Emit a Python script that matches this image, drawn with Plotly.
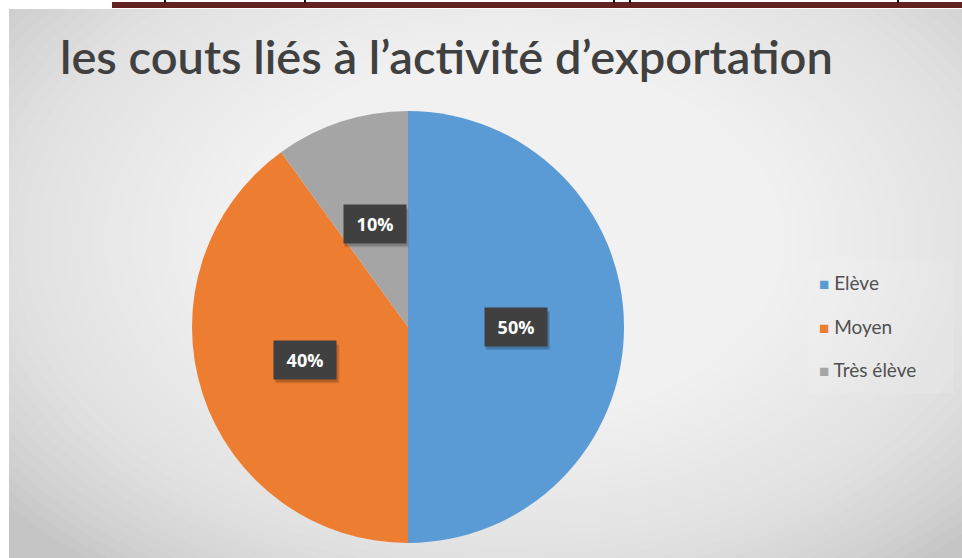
import math
import plotly.graph_objects as go

# --- data -------------------------------------------------------------
categories = ["Elève", "Moyen", "Très élève"]
values = [50, 40, 10]
colors = ["#5B9BD5", "#ED7D31", "#A5A5A5"]
title_text = "les couts liés à l’activité d’exportation"

# --- canvas geometry (pixels) ------------------------------------------
W, H = 962, 558
PIE_LEFT, PIE_RIGHT = 192, 624
PIE_TOP, PIE_BOTTOM = 111, 543
pie_cx = (PIE_LEFT + PIE_RIGHT) / 2
pie_cy = (PIE_TOP + PIE_BOTTOM) / 2
pie_r = (PIE_RIGHT - PIE_LEFT) / 2


def px_to_paper(x, y):
    return x / W, 1 - y / H


fig = go.Figure()
fig.add_trace(go.Pie(
    labels=categories,
    values=values,
    marker=dict(colors=colors, line=dict(width=0)),
    sort=False,
    direction="clockwise",
    rotation=0,
    textinfo="none",
    hoverinfo="label+percent",
    showlegend=False,
    domain=dict(x=[PIE_LEFT / W, PIE_RIGHT / W],
                y=[1 - PIE_BOTTOM / H, 1 - PIE_TOP / H]),
))

shapes = []

# chart area with a soft radial gradient (stacked translucent ellipses)
AREA_X0, AREA_Y0 = 9, 9
shapes.append(dict(type="rect", xref="paper", yref="paper",
                   x0=0, x1=1, y0=0, y1=1,
                   fillcolor="#c5c5c5", line=dict(width=0), layer="below"))
gcx, gcy = 505, 240
steps = 48
for i in range(steps):
    f = 1 - i / steps
    ax, ay = 640 * f, 420 * f
    x0, y0 = px_to_paper(gcx - ax, gcy - ay)
    x1, y1 = px_to_paper(gcx + ax, gcy + ay)
    shapes.append(dict(type="circle", xref="paper", yref="paper",
                       x0=x0, x1=x1, y0=y1, y1=y0,
                       fillcolor="rgba(255,255,255,0.062)",
                       line=dict(width=0), layer="below"))

# white page margin around the chart area
shapes.append(dict(type="rect", xref="paper", yref="paper",
                   x0=0, x1=AREA_X0 / W, y0=0, y1=1,
                   fillcolor="#ffffff", line=dict(width=0), layer="below"))
shapes.append(dict(type="rect", xref="paper", yref="paper",
                   x0=0, x1=1, y0=1 - AREA_Y0 / H, y1=1,
                   fillcolor="#ffffff", line=dict(width=0), layer="below"))

# page header rule and clipped text strokes above it
shapes.append(dict(type="rect", xref="paper", yref="paper",
                   x0=112 / W, x1=1, y0=1 - 8 / H, y1=1 - 2 / H,
                   fillcolor="#622222", line=dict(width=0)))
for sx in (165, 305, 614, 630, 898):
    shapes.append(dict(type="line", xref="paper", yref="paper",
                       x0=sx / W, x1=sx / W, y0=1 - 3 / H, y1=1,
                       line=dict(color="#111111", width=2)))

# faint legend panel
shapes.append(dict(type="rect", xref="paper", yref="paper",
                   x0=808 / W, x1=953 / W, y0=1 - 393 / H, y1=1 - 260 / H,
                   fillcolor="rgba(255,255,255,0.10)", line=dict(width=0),
                   layer="below"))

annotations = []

# title
tx, ty = px_to_paper(446, 56)
annotations.append(dict(text=title_text, x=tx, y=ty, xref="paper", yref="paper",
                        xanchor="center", yanchor="middle", showarrow=False,
                        font=dict(family="Lato", size=47, color="#404040",
                                  weight=600)))

# data labels at half radius along each slice's mid angle
BOX_W, BOX_H = 62, 38
total = sum(values)
start = 90.0
for cat, v in zip(categories, values):
    sweep = 360.0 * v / total
    mid = math.radians(start - sweep / 2)
    start -= sweep
    lx = pie_cx + 0.5 * pie_r * math.cos(mid)
    ly = pie_cy - 0.5 * pie_r * math.sin(mid)
    pct = f"{round(100 * v / total)}%"
    # soft drop shadow under the label box
    for k, a in ((4, 0.10), (3, 0.14)):
        sx0, sy0 = px_to_paper(lx - BOX_W / 2 + 1, ly - BOX_H / 2 + k)
        sx1, sy1 = px_to_paper(lx + BOX_W / 2 + k - 1, ly + BOX_H / 2 + k)
        shapes.append(dict(type="rect", xref="paper", yref="paper",
                           x0=sx0, x1=sx1, y0=sy1, y1=sy0,
                           fillcolor=f"rgba(0,0,0,{a})", line=dict(width=0)))
    px, py = px_to_paper(lx, ly)
    annotations.append(dict(text=pct, x=px, y=py, xref="paper", yref="paper",
                            xanchor="center", yanchor="middle",
                            showarrow=False, width=BOX_W - 16, height=BOX_H - 16,
                            borderpad=8, bgcolor="#404040",
                            font=dict(family="Open Sans", size=18,
                                      color="#ffffff", weight="bold")))

# legend entries
legend_y = [282, 326, 369]
for cat, col, ly in zip(categories, colors, legend_y):
    lx, lyp = px_to_paper(817, ly)
    annotations.append(dict(
        text=f"<span style='color:{col};font-size:17px'>■</span> {cat}",
        x=lx, y=lyp, xref="paper", yref="paper", xanchor="left",
        yanchor="middle", showarrow=False,
        font=dict(family="Lato", size=19, color="#505050")))

fig.update_layout(
    width=W, height=H,
    margin=dict(l=0, r=0, t=0, b=0),
    paper_bgcolor="#ffffff",
    plot_bgcolor="#ffffff",
    shapes=shapes,
    annotations=annotations,
    showlegend=False,
)

fig.write_html("out.html")
